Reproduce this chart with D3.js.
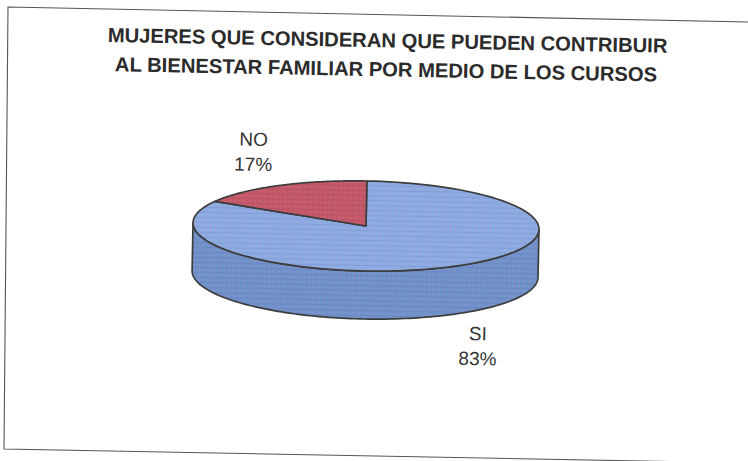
<!DOCTYPE html>
<html>
<head>
<meta charset="utf-8">
<script src="https://cdn.jsdelivr.net/npm/d3@7/dist/d3.min.js"></script>
<style>
html,body{margin:0;padding:0;background:#fff;}
svg{display:block;}
text{font-family:"Liberation Sans",Arial,sans-serif;}
</style>
</head>
<body>
<svg id="chart" width="748" height="461"></svg>
<script>
const categories = ["SI", "NO"];
const shares = [83, 17];
const sliceColors = ["#8dabe2", "#c9525f"];
const wallColor = "#6f90c9";
const titleLines = [
  "MUJERES QUE CONSIDERAN QUE PUEDEN CONTRIBUIR",
  "AL BIENESTAR FAMILIAR POR MEDIO DE LOS CURSOS"
];

const width = 748, height = 461;
const cx = 366, cy = 226, rx = 173, ry = 45, depth = 48;
const tilt = 1.1;
const ink = "#3d3d3d";

const svg = d3.select("#chart");
const defs = svg.append("defs");

// Woven dot texture laid over the pie faces
const weave = defs.append("pattern")
  .attr("id", "weave").attr("width", 5).attr("height", 5)
  .attr("patternUnits", "userSpaceOnUse");
weave.append("rect").attr("width", 5).attr("height", 1).attr("fill", "#5d6fa8").attr("opacity", 0.22);
weave.append("rect").attr("y", 2).attr("width", 1).attr("height", 3).attr("fill", "#d79ad0").attr("opacity", 0.28);
weave.append("rect").attr("x", 3).attr("y", 2).attr("width", 1).attr("height", 2).attr("fill", "#6fc0e8").attr("opacity", 0.3);

// Chart frame, running off the right edge of the page
svg.append("path")
  .attr("d", d3.line()([[748, 22], [8, 7], [4, 449], [748, 463]]))
  .attr("fill", "none").attr("stroke", "#555").attr("stroke-width", 1.1);

const page = svg.append("g").attr("transform", `rotate(${tilt} ${cx} ${cy})`);

// Title
page.append("g").selectAll("text").data(titleLines).join("text")
  .attr("x", (d, i) => i ? 383 : 384)
  .attr("y", (d, i) => 47 + i * 29)
  .attr("text-anchor", "middle")
  .attr("font-size", 20.2)
  .attr("font-weight", 700)
  .attr("fill", "#2b2b2b")
  .text(d => d);

// Pie slices, first slice starting at twelve o'clock and running clockwise
const pieData = d3.pie().sort(null).value(d => d)(shares);
const sx = d3.scaleLinear().domain([-1, 1]).range([cx - rx, cx + rx]);
const sy = d3.scaleLinear().domain([-1, 1]).range([cy - ry, cy + ry]);
const rimPoint = (a, dy = 0) => [sx(Math.sin(a)), sy(-Math.cos(a)) + dy];
const rimAngles = (a0, a1) => d3.range(0, 121).map(i => a0 + (a1 - a0) * i / 120);

// Cylinder wall: the near half of the rim, dropped by the pie's depth
const near = rimAngles(Math.PI / 2, 3 * Math.PI / 2);
const wallPath = d3.line()([
  ...near.map(a => rimPoint(a)),
  ...near.slice().reverse().map(a => rimPoint(a, depth))
]) + "Z";
page.append("path").attr("d", wallPath).attr("fill", wallColor);
page.append("path").attr("d", wallPath).attr("fill", "url(#weave)")
  .attr("stroke", ink).attr("stroke-width", 1.7);

// Top faces
const slicePath = d => d3.line()([
  [cx, cy],
  ...rimAngles(d.startAngle, d.endAngle).map(a => rimPoint(a))
]) + "Z";
const faces = page.append("g").selectAll("g").data(pieData).join("g");
faces.append("path").attr("d", slicePath).attr("fill", (d, i) => sliceColors[i]);
faces.append("path").attr("d", slicePath).attr("fill", "url(#weave)")
  .attr("stroke", ink).attr("stroke-width", 1.7).attr("stroke-linejoin", "round");

// Outside labels: category above, percentage below
const labelSpots = [[480, 338], [252, 148]];
const labels = page.append("g").selectAll("text").data(pieData).join("text")
  .attr("text-anchor", "middle")
  .attr("font-size", 19)
  .attr("fill", "#333");
labels.append("tspan")
  .attr("x", (d, i) => labelSpots[i][0]).attr("y", (d, i) => labelSpots[i][1])
  .text((d, i) => categories[i]);
labels.append("tspan")
  .attr("x", (d, i) => labelSpots[i][0]).attr("y", (d, i) => labelSpots[i][1] + 25)
  .text(d => d.value + "%");
</script>
</body>
</html>
